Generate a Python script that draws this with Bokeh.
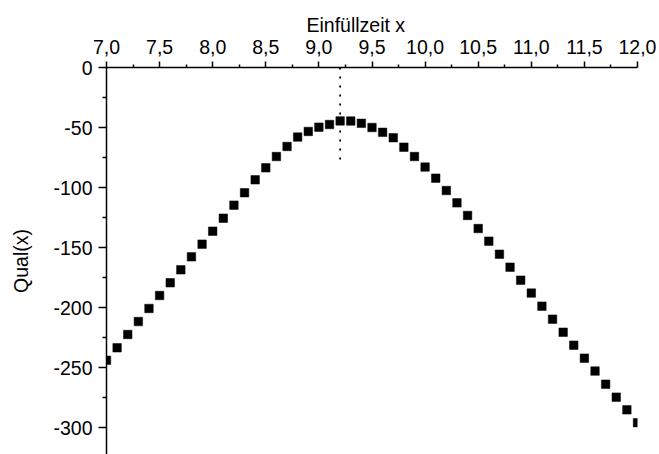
from bokeh.plotting import figure
from bokeh.models import Range1d, FixedTicker, LinearAxis, ColumnDataSource
from bokeh.embed import file_html
from bokeh.resources import INLINE

# Filling time (x) and quality score Qual(x)
fill_time = [7.0, 7.1, 7.2, 7.3, 7.4, 7.5, 7.6, 7.7, 7.8, 7.9,
             8.0, 8.1, 8.2, 8.3, 8.4, 8.5, 8.6, 8.7, 8.8, 8.9,
             9.0, 9.1, 9.2, 9.3, 9.4, 9.5, 9.6, 9.7, 9.8, 9.9,
             10.0, 10.1, 10.2, 10.3, 10.4, 10.5, 10.6, 10.7, 10.8, 10.9,
             11.0, 11.1, 11.2, 11.3, 11.4, 11.5, 11.6, 11.7, 11.8, 11.9,
             12.0]
quality = [-244.0, -233.6, -222.5, -211.7, -200.8, -190.0, -179.4, -168.6, -157.8, -147.2,
           -136.4, -125.6, -114.7, -104.4, -93.6, -83.6, -74.2, -65.8, -58.0, -53.3,
           -49.7, -47.5, -44.5, -44.6, -46.5, -50.0, -54.0, -58.5, -66.4, -74.2,
           -83.0, -92.2, -102.5, -112.8, -123.3, -134.2, -144.7, -155.6, -166.4, -177.2,
           -188.0, -198.9, -209.7, -220.6, -231.4, -242.2, -253.0, -263.9, -274.7, -285.3,
           -296.0]

# Vertical guide at the optimum filling time
optimum_x = [9.2, 9.2]
optimum_y = [0.0, -80.0]

x_ticks = [7.0, 7.5, 8.0, 8.5, 9.0, 9.5, 10.0, 10.5, 11.0, 11.5, 12.0]
x_tick_labels = ["7,0", "7,5", "8,0", "8,5", "9,0", "9,5", "10,0", "10,5", "11,0", "11,5", "12,0"]
x_minor = [7.25, 7.75, 8.25, 8.75, 9.25, 9.75, 10.25, 10.75, 11.25, 11.75]
y_ticks = [0, -50, -100, -150, -200, -250, -300]
y_tick_labels = ["0", "-50", "-100", "-150", "-200", "-250", "-300"]
y_minor = [-25, -75, -125, -175, -225, -275]

x_title = "Einfüllzeit x"
y_title = "Qual(x)"

FONT = "Liberation Sans"
SIZE = "19.5px"

p = figure(width=659, height=454, output_backend="svg", toolbar_location=None,
           x_range=Range1d(7.0, 12.0), y_range=Range1d(-322.5, 0.0),
           x_axis_location=None, y_axis_location=None,
           min_border_left=106, min_border_right=22,
           min_border_top=67, min_border_bottom=0)
p.outline_line_color = None
p.grid.visible = False
p.background_fill_color = "white"
p.border_fill_color = "white"

# Top-axis title, left-aligned with an offset so it sits a little left of centre
p.title.text = x_title
p.title.align = "left"
p.title.offset = 200
p.title.text_font = FONT
p.title.text_font_size = SIZE
p.title.text_font_style = "normal"
p.title.text_color = "black"
p.title.standoff = 2

xaxis = LinearAxis(ticker=FixedTicker(ticks=x_ticks, minor_ticks=x_minor),
                   major_label_overrides={t: s for t, s in zip(x_ticks, x_tick_labels)})
yaxis = LinearAxis(axis_label=y_title,
                   ticker=FixedTicker(ticks=y_ticks, minor_ticks=y_minor),
                   major_label_overrides={t: s for t, s in zip(y_ticks, y_tick_labels)})

for ax in (xaxis, yaxis):
    ax.axis_line_color = "black"
    ax.axis_line_width = 1.5
    ax.major_tick_line_color = "black"
    ax.major_tick_line_width = 1.5
    ax.minor_tick_line_color = "black"
    ax.minor_tick_line_width = 1.5
    ax.major_tick_in = 0
    ax.minor_tick_in = 0
    ax.major_label_text_font = FONT
    ax.major_label_text_font_size = SIZE
    ax.major_label_text_color = "black"
    ax.axis_label_text_font = FONT
    ax.axis_label_text_font_size = SIZE
    ax.axis_label_text_font_style = "normal"
    ax.axis_label_text_color = "black"

xaxis.major_tick_out = 6
xaxis.minor_tick_out = 3
xaxis.major_label_standoff = 8
yaxis.major_tick_out = 8
yaxis.minor_tick_out = 4
yaxis.major_label_standoff = 6
yaxis.axis_label_standoff = 18

p.add_layout(xaxis, "above")
p.add_layout(yaxis, "left")

p.line(optimum_x, optimum_y, line_color="black", line_width=1.8, line_dash="2 7")

src = ColumnDataSource(data=dict(x=fill_time, y=quality))
p.scatter("x", "y", source=src, marker="square", size=8.5,
          fill_color="black", line_color="black", line_width=0.5)

open("out.html", "w").write(file_html(p, INLINE))
